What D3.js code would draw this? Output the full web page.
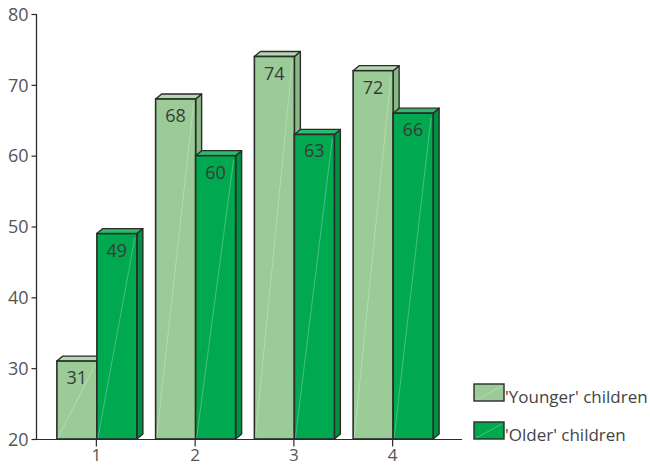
<!DOCTYPE html>
<html>
<head>
<meta charset="utf-8">
<script src="https://cdn.jsdelivr.net/npm/d3@7"></script>
<style>
  html, body { margin: 0; padding: 0; background: #fff; }
  svg { display: block; font-family: "Open Sans", "Noto Sans", sans-serif; }
</style>
</head>
<body>
<svg id="chart" width="650" height="466"></svg>
<script>
// Survey groups along the x axis
const categories = ["1", "2", "3", "4"];
// Series values per group
const youngerValues = [31, 68, 74, 72];
const olderValues = [49, 60, 63, 66];
const seriesNames = ["'Younger' children", "'Older' children"];
const yTicks = [20, 30, 40, 50, 60, 70, 80];

const colors = {
  younger: { front: "#9bcb96", top: "#b3d9ae", side: "#88bb83" },
  older:   { front: "#00a84f", top: "#2dbb6a", side: "#009042" }
};
const stroke = "#2b2b2b";
const textColor = "#555";
const depthX = 6, depthY = 5;

const svg = d3.select("#chart");

const y = d3.scaleLinear().domain([20, 80]).range([439, 14]);
const x = d3.scaleBand().domain(categories).range([47.5, 442.5])
  .paddingInner(0.19).paddingOuter(0.095);
const xSub = d3.scaleBand().domain(["younger", "older"]).range([0, x.bandwidth()]);

const rows = [];
categories.forEach((c, i) => {
  rows.push({ cat: c, key: "younger", value: youngerValues[i] });
  rows.push({ cat: c, key: "older", value: olderValues[i] });
});
// younger bars first so the older bar covers their side face
rows.sort((a, b) => (a.key === b.key ? 0 : a.key === "younger" ? -1 : 1));

const base = y(20);
const bars = svg.append("g").selectAll("g").data(rows).join("g");

bars.each(function(d) {
  const g = d3.select(this);
  const x0 = x(d.cat) + xSub(d.key);
  const x1 = x0 + xSub.bandwidth();
  const yt = y(d.value);
  const c = colors[d.key];
  // side face
  g.append("path")
    .attr("d", `M${x1},${yt}L${x1 + depthX},${yt - depthY}L${x1 + depthX},${base - depthY}L${x1},${base}Z`)
    .attr("fill", c.side).attr("stroke", stroke).attr("stroke-width", 1.4).attr("stroke-linejoin", "round");
  // top face
  g.append("path")
    .attr("d", `M${x0},${yt}L${x0 + depthX},${yt - depthY}L${x1 + depthX},${yt - depthY}L${x1},${yt}Z`)
    .attr("fill", c.top).attr("stroke", stroke).attr("stroke-width", 1.4).attr("stroke-linejoin", "round");
  // front face
  g.append("rect")
    .attr("x", x0).attr("y", yt).attr("width", x1 - x0).attr("height", base - yt)
    .attr("fill", c.front).attr("stroke", stroke).attr("stroke-width", 1.6);
  // faint sheen line across the front
  g.append("line")
    .attr("x1", x0 + 1).attr("y1", base - 1).attr("x2", x1 - 2).attr("y2", yt + 4)
    .attr("stroke", "#fff").attr("stroke-opacity", 0.35).attr("stroke-width", 0.8);
  // value label
  g.append("text")
    .attr("x", (x0 + x1) / 2).attr("y", yt + 23)
    .attr("text-anchor", "middle")
    .attr("font-size", 18).attr("fill", "#3a3a3a")
    .text(d.value);
});

// y axis
const yAxis = svg.append("g").attr("transform", "translate(36.5,0)")
  .call(d3.axisLeft(y).tickValues(yTicks).tickSize(5).tickPadding(3).tickFormat(d3.format("d")));
yAxis.select(".domain").attr("d", `M0,${y(80)}V${y(20)}`).attr("stroke", stroke).attr("stroke-width", 1.3);
yAxis.selectAll(".tick line").attr("stroke", stroke).attr("stroke-width", 1.2);
yAxis.selectAll(".tick text").attr("font-size", 18).attr("fill", textColor)
  .attr("font-family", "\"Open Sans\", sans-serif").attr("dy", "0.35em");

// x axis
const xAxis = svg.append("g").attr("transform", `translate(0,${base + 0.5})`)
  .call(d3.axisBottom(x).tickSize(7).tickPadding(5)
    .tickSizeOuter(0));
xAxis.selectAll(".tick").attr("transform", d => `translate(${x(d) + xSub.bandwidth() - 0.5},0)`);
xAxis.select(".domain").attr("d", "M36,0H462").attr("stroke", stroke).attr("stroke-width", 1.2);
xAxis.selectAll(".tick line").attr("stroke", stroke).attr("stroke-width", 1.2);
xAxis.selectAll(".tick text").attr("font-size", 17).attr("fill", textColor)
  .attr("font-family", "\"Open Sans\", sans-serif").attr("dy", "0.55em");

// legend
const legend = svg.append("g");
const legendKeys = ["younger", "older"];
legendKeys.forEach((k, i) => {
  const ly = 384 + i * 38;
  legend.append("rect")
    .attr("x", 474).attr("y", ly).attr("width", 30).attr("height", 17)
    .attr("fill", colors[k].front).attr("stroke", stroke).attr("stroke-width", 1.4);
  legend.append("line")
    .attr("x1", 476).attr("y1", ly + 16).attr("x2", 502).attr("y2", ly + 2)
    .attr("stroke", "#fff").attr("stroke-opacity", 0.35).attr("stroke-width", 0.8);
  legend.append("text")
    .attr("x", 505).attr("y", ly + 19)
    .attr("font-size", 17).attr("fill", "#444")
    .text(seriesNames[i]);
});
</script>
</body>
</html>
